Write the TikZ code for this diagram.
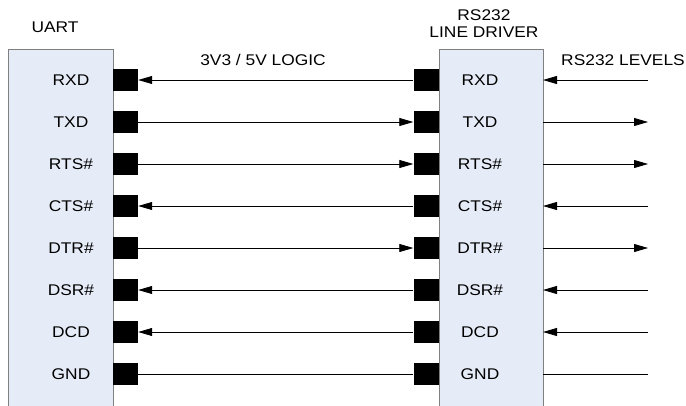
\documentclass[tikz,border=0pt]{standalone}
\usepackage{fontspec}
\setmainfont{Liberation Sans}[FakeStretch=1.12]
\usetikzlibrary{arrows.meta}
\definecolor{boxfill}{HTML}{E6ECF7}
\definecolor{boxline}{HTML}{7F7F7F}
\begin{document}
\begin{tikzpicture}[x=1pt,y=-1pt,
  chip/.style={draw=boxline,line width=1.2pt,fill=boxfill,rectangle,inner sep=0pt,anchor=north west},
  pin/.style={fill=black,rectangle,inner sep=0pt,minimum width=25pt,minimum height=22pt},
  sig/.style={font=\fontsize{15.5}{17}\selectfont,inner sep=0pt},
  lbl/.style={font=\fontsize{15.5}{18}\selectfont,inner sep=0pt,align=center},
  wire/.style={line width=0.8pt},
  tip/.style={-{Triangle[length=14pt,width=8pt]}}]
\useasboundingbox (0,0) rectangle (686,405);
\begin{scope}
\clip (0,0) rectangle (686,405);
\node[chip,minimum width=105pt,minimum height=370pt] (uart) at (8,49) {};
\node[chip,minimum width=104pt,minimum height=370pt] (drv) at (439,49) {};
\end{scope}
\node[lbl] (tuart) at (55,27) {UART};
\node[lbl] (tdrv) at (484,24) {RS232\\[-1pt]LINE DRIVER};
\node[lbl] (tlogic) at (263,60) {3V3 / 5V LOGIC};
\node[lbl] (tlev) at (623,60) {RS232 LEVELS};
\foreach \i/\name/\ldir/\rdir in {1/RXD/l/l,2/TXD/r/r,3/RTS\#/r/r,4/CTS\#/l/l,5/DTR\#/r/r,6/DSR\#/l/l,7/DCD/l/l,8/GND/n/n}{
  \pgfmathsetmacro{\yy}{80+42*(\i-1)}
  \node[pin] (lp\i) at (125.5,\yy) {};
  \node[pin] (rp\i) at (426,\yy) {};
  \node[sig] (ls\i) at (71,\yy) {\name};
  \node[sig] (rs\i) at (480,\yy) {\name};
  \coordinate (ra\i) at (543,\yy);
  \coordinate (re\i) at (648,\yy);
  \if\ldir l
    \draw[wire,tip] (rp\i.west) -- (lp\i.east);
  \else\if\ldir r
    \draw[wire,tip] (lp\i.east) -- (rp\i.west);
  \else
    \draw[wire] (lp\i.east) -- (rp\i.west);
  \fi\fi
  \if\rdir l
    \draw[wire,tip] (re\i) -- (ra\i);
  \else\if\rdir r
    \draw[wire,tip] (ra\i) -- (re\i);
  \else
    \draw[wire] (ra\i) -- (re\i);
  \fi\fi
}
\end{tikzpicture}
\end{document}
